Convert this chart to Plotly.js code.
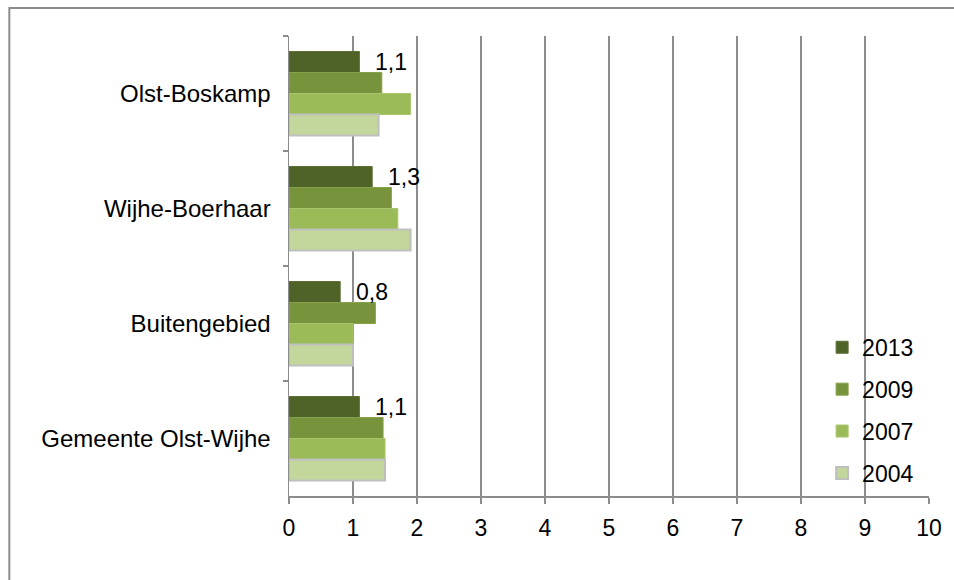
<!DOCTYPE html>
<html>
<head>
<meta charset="utf-8">
<script src="https://cdn.plot.ly/plotly-3.0.1.min.js"></script>
<style>html,body{margin:0;padding:0;background:#fff;}#chart{width:954px;height:580px;}</style>
</head>
<body>
<div id="chart"></div>
<script>
const categories = ["Olst-Boskamp", "Wijhe-Boerhaar", "Buitengebied", "Gemeente Olst-Wijhe"];
const years = ["2013", "2009", "2007", "2004"];
const v2013 = [1.1, 1.3, 0.8, 1.1];
const v2009 = [1.45, 1.6, 1.35, 1.47];
const v2007 = [1.9, 1.7, 1.0, 1.5];
const v2004 = [1.4, 1.9, 1.0, 1.5];
const xTicks = [0, 1, 2, 3, 4, 5, 6, 7, 8, 9, 10];

const seriesValues = [v2013, v2009, v2007, v2004];
const colors = ["#4F6228", "#77933C", "#9BBB59", "#C3D69B"];
const lineColors = ["#5C7034", "#86A24A", "#A9C46C", "#BFBFBF"];
const lineWidths = [1, 1, 1, 2];
const FONT = "Liberation Sans, Arial, sans-serif";

const traces = years.map((yr, i) => ({
  type: "bar",
  orientation: "h",
  name: yr,
  legendgroup: yr,
  x: seriesValues[i],
  y: categories,
  marker: { color: colors[i], line: { color: lineColors[i], width: lineWidths[i] } },
  hoverinfo: "x+name"
}));

const annotations = categories.map((c, i) => ({
  x: v2013[i],
  y: c,
  xref: "x",
  yref: "y",
  text: String(v2013[i]).replace(".", ","),
  showarrow: false,
  xanchor: "left",
  yanchor: "middle",
  xshift: 14,
  yshift: 32,
  font: { family: FONT, size: 23, color: "#000" }
}));

const layout = {
  width: 954,
  height: 580,
  margin: { l: 289, r: 25, t: 36, b: 84 },
  paper_bgcolor: "#ffffff",
  plot_bgcolor: "#ffffff",
  font: { family: FONT, size: 23, color: "#000" },
  barmode: "group",
  bargap: 0.27,
  bargroupgap: 0,
  showlegend: true,
  legend: {
    x: 0.833, y: 0.37, xanchor: "left", yanchor: "top",
    bgcolor: "rgba(0,0,0,0)",
    traceorder: "grouped",
    tracegroupgap: 9,
    itemwidth: 30,
    font: { size: 23, family: FONT, color: "#000" }
  },
  xaxis: {
    range: [0, 10],
    tickvals: xTicks,
    ticktext: xTicks.map(String),
    showgrid: true,
    gridcolor: "#8C8C8C",
    gridwidth: 1.5,
    zeroline: false,
    showline: true,
    linecolor: "#8C8C8C",
    linewidth: 1.5,
    ticks: "outside",
    ticklen: 6,
    tickcolor: "#8C8C8C",
    tickwidth: 1.5,
    ticklabelstandoff: 5,
    tickfont: { size: 23 },
    fixedrange: true
  },
  yaxis: {
    type: "category",
    categoryorder: "array",
    categoryarray: categories,
    autorange: "reversed",
    tickson: "boundaries",
    ticks: "outside",
    ticklen: 5,
    tickcolor: "#8C8C8C",
    tickwidth: 1.5,
    showline: true,
    linecolor: "#8C8C8C",
    linewidth: 1.5,
    showgrid: false,
    zeroline: false,
    ticklabelstandoff: 12,
    tickfont: { size: 24 },
    fixedrange: true
  },
  annotations: annotations,
  shapes: [{
    type: "rect",
    xref: "paper", yref: "paper",
    x0: -0.437, x1: 1.06, y0: -0.25, y1: 1.0609,
    line: { color: "#8C8C8C", width: 2 },
    fillcolor: "rgba(0,0,0,0)",
    layer: "below"
  }]
};

Plotly.newPlot("chart", traces, layout, { displayModeBar: false, staticPlot: true });
</script>
</body>
</html>
